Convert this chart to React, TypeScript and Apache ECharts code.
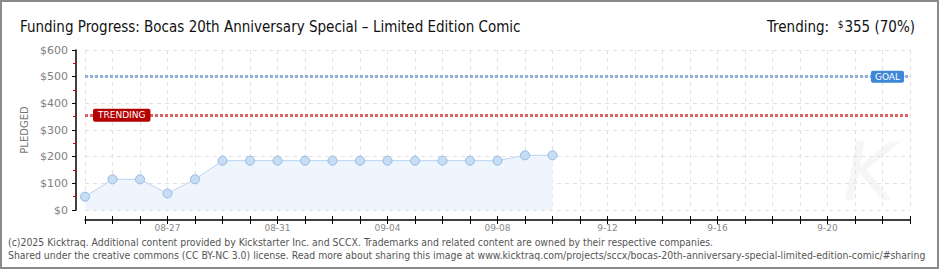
import React, { useEffect, useRef } from "react";
import * as echarts from "echarts";

const dates: string[] = [
  "08-24", "08-25", "08-26", "08-27", "08-28", "08-29", "08-30", "08-31",
  "09-01", "09-02", "09-03", "09-04", "09-05", "09-06", "09-07", "09-08",
  "09-09", "09-10",
  "9-11", "9-12", "9-13", "9-14", "9-15", "9-16", "9-17", "9-18", "9-19",
  "9-20", "9-21", "9-22", "9-23",
];
const pledged: number[] = [
  50, 115, 115, 62, 115, 185, 185, 185, 185, 185, 185, 185, 185, 185, 185, 185,
  205, 205,
];
const goal = 500;
const trending = 355;
const trendingPct = 70;
const titleText = "Funding Progress: Bocas 20th Anniversary Special – Limited Edition Comic";
const footer1 =
  "(c)2025 Kicktraq. Additional content provided by Kickstarter Inc. and SCCX. Trademarks and related content are owned by their respective companies.";
const footer2 =
  "Shared under the creative commons (CC BY-NC 3.0) license. Read more about sharing this image at www.kicktraq.com/projects/sccx/bocas-20th-anniversary-special-limited-edition-comic/#sharing";

const NARROW = "'Liberation Sans Narrow', 'DejaVu Sans Condensed', 'Roboto Condensed', sans-serif";
const AXISF = "'DejaVu Sans', sans-serif";

export default function App() {
  const ref = useRef<HTMLDivElement>(null);
  useEffect(() => {
    if (!ref.current) return;
    const chart = echarts.init(ref.current, null, { renderer: "svg" });
    const labelInterval = (i: number) => i >= 3 && (i - 3) % 4 === 0;
    chart.setOption({
      animation: false,
      backgroundColor: "#ffffff",
      title: [
        {
          text: titleText,
          left: 15,
          top: 14,
          textStyle: { fontFamily: NARROW, fontSize: 15, fontWeight: "normal", color: "#111" },
        },
        {
          text: "{a|Trending:  }{s|$}{a|" + trending + " (" + trendingPct + "%)}",
          right: 20,
          top: 14,
          textStyle: {
            fontWeight: "normal",
            rich: {
              a: { fontFamily: NARROW, fontSize: 15, fontWeight: "normal", color: "#111" },
              s: { fontFamily: NARROW, fontSize: 10, fontWeight: "normal", color: "#111", verticalAlign: "top", padding: [0, 1, 6, 0] },
            },
          },
        },
      ],
      grid: { left: 85, right: 30, top: 50, bottom: 60 },
      xAxis: [
        {
          type: "category",
          data: dates,
          boundaryGap: false,
          offset: 10,
          axisLine: { show: true, onZero: false, lineStyle: { color: "#000", width: 1.5 } },
          axisTick: { show: true, interval: 0, length: 4, lineStyle: { color: "#000" } },
          axisLabel: {
            interval: (i: number) => labelInterval(i),
            color: "#888",
            fontFamily: AXISF,
            fontSize: 9,
            margin: 3,
          },
          splitLine: {
            show: true,
            interval: 0,
            lineStyle: { color: "#e2e2e2", type: [4, 4] },
          },
        },
        {
          type: "category",
          data: dates,
          boundaryGap: false,
          offset: 10,
          position: "bottom",
          axisLine: { show: false, onZero: false },
          axisTick: { show: true, interval: 0, inside: true, length: 4, lineStyle: { color: "#000" } },
          axisLabel: { show: false },
          splitLine: { show: false },
        },
      ],
      yAxis: {
        type: "value",
        min: 0,
        max: 600,
        interval: 100,
        offset: 9,
        name: "PLEDGED",
        nameLocation: "middle",
        nameGap: 33,
        nameTextStyle: { color: "#777", fontFamily: AXISF, fontSize: 10 },
        axisLine: { show: true, lineStyle: { color: "#000", width: 1.5 } },
        axisTick: { show: true, length: 4, lineStyle: { color: "#000" } },
        minorTick: { show: true, splitNumber: 2, length: 3, lineStyle: { color: "#e00000" } },
        axisLabel: {
          formatter: (v: number) => "$" + v,
          color: "#808080",
          fontFamily: AXISF,
          fontSize: 11,
          margin: 8,
        },
        splitLine: { show: true, lineStyle: { color: "#e2e2e2", type: [4, 4] } },
      },
      series: [
        {
          type: "line",
          data: pledged,
          symbol: "circle",
          symbolSize: 9,
          itemStyle: { color: "#c6ddf6", borderColor: "#9ab7dc", borderWidth: 1 },
          lineStyle: { color: "#b8d4f1", width: 1 },
          areaStyle: { color: "#eef5fd", opacity: 1 },
          markLine: {
            silent: true,
            symbol: ["none", "none"],
            data: [
              {
                yAxis: goal,
                lineStyle: { color: "#92b2db", width: 3, type: [3, 2] },
                label: {
                  show: true,
                  formatter: "GOAL",
                  position: "insideEndTop",
                  distance: [6, 0],
                  verticalAlign: "middle",
                  color: "#fff",
                  backgroundColor: "#3d87d6",
                  borderRadius: 2,
                  padding: [2, 4, 1, 4],
                  fontFamily: AXISF,
                  fontSize: 9,
                },
              },
              {
                yAxis: trending,
                lineStyle: { color: "#de6464", width: 3, type: [3, 2] },
                label: {
                  show: true,
                  formatter: "TRENDING",
                  position: "insideStartTop",
                  distance: [8, 0],
                  verticalAlign: "middle",
                  color: "#fff",
                  backgroundColor: "#b40000",
                  borderRadius: 2,
                  padding: [2, 5, 2, 5],
                  fontFamily: AXISF,
                  fontSize: 9,
                },
              },
            ],
          },
        },
      ],
      graphic: [
        {
          type: "text",
          left: 843,
          top: 132,
          z: -1,
          style: { text: "K", fontSize: 80, fontStyle: "italic", fontFamily: "'DejaVu Sans', sans-serif", fill: "#f6f6f6" },
        },
        {
          type: "text",
          left: 8,
          top: 237,
          style: { text: footer1, fontFamily: NARROW, fontSize: 10.4, fill: "#555" },
        },
        {
          type: "text",
          left: 8,
          top: 250,
          style: { text: footer2, fontFamily: NARROW, fontSize: 10.4, fill: "#555" },
        },
        {
          type: "rect",
          shape: { x: 1, y: 1, width: 937, height: 267 },
          style: { fill: "none", stroke: "#8a8a8a", lineWidth: 2 },
          silent: true,
        },
      ],
    });
    return () => chart.dispose();
  }, []);
  return (
    <div
      ref={ref}
      style={{ position: "fixed", left: 0, top: 0, width: 940, height: 270 }}
    />
  );
}
